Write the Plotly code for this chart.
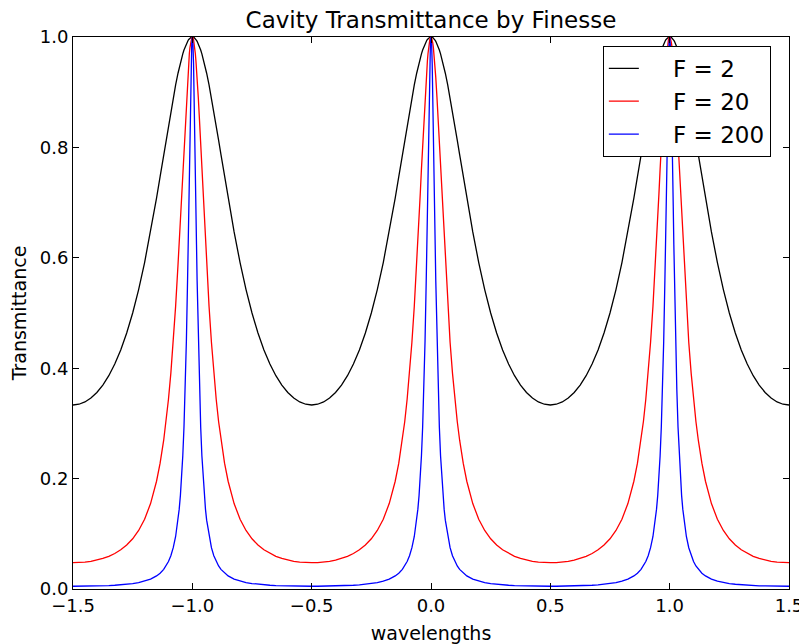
import plotly.graph_objects as go

# Offsets from a transmission peak (in wavelengths), half period
offsets = [0.0, 0.0025, 0.005, 0.0075, 0.01, 0.0125, 0.015, 0.0175, 0.02, 0.025, 0.03,
           0.035, 0.04, 0.045, 0.05, 0.055, 0.06, 0.07, 0.08, 0.09, 0.1, 0.11, 0.12,
           0.135, 0.15, 0.175, 0.2, 0.225, 0.25, 0.275, 0.3, 0.325, 0.35, 0.375, 0.4,
           0.425, 0.45, 0.475, 0.5]
# Transmittance read at those offsets for each finesse
t_f2 = [1.0, 0.99988, 0.99951, 0.99889, 0.99803, 0.99693, 0.99558, 0.99400, 0.99218,
        0.98784, 0.98260, 0.97648, 0.96954, 0.96181, 0.95334, 0.94418, 0.93438,
        0.91310, 0.88992, 0.86530, 0.83964, 0.81335, 0.78676, 0.74700, 0.70811,
        0.64683, 0.59137, 0.54243, 0.5, 0.46373, 0.43308, 0.40750, 0.38643, 0.36940,
        0.35600, 0.34590, 0.33886, 0.33471, 0.33333]
t_f20 = [1.0, 0.99877, 0.99509, 0.98902, 0.98065, 0.97010, 0.95751, 0.94305, 0.92691,
         0.89038, 0.84936, 0.80591, 0.76094, 0.71579, 0.67139, 0.62846, 0.58746,
         0.51237, 0.44704, 0.39112, 0.34366, 0.30350, 0.26952, 0.22795, 0.19523,
         0.15480, 0.12643, 0.10598, 0.090909, 0.079590, 0.070971, 0.064351, 0.059249,
         0.055337, 0.052383, 0.050226, 0.048755, 0.047900, 0.047619]
t_f200 = [1.0, 0.98781, 0.95298, 0.90008, 0.83519, 0.76437, 0.69262, 0.62348, 0.55912,
          0.44820, 0.36085, 0.29340, 0.24145, 0.20118, 0.16965, 0.14468, 0.12465,
          0.095082, 0.074798, 0.060360, 0.049755, 0.041756, 0.035584, 0.028679,
          0.023685, 0.017985, 0.014266, 0.011716, 0.0099010, 0.0085731, 0.0075815,
          0.0068307, 0.0062587, 0.0058238, 0.0054975, 0.0052604, 0.0051000, 0.0050058,
          0.0049751]
peak_centers = [-1.0, 0.0, 1.0]
series_names = ["F = 2", "F = 20", "F = 200"]
series_colors = ["black", "red", "blue"]

x_ticks = [-1.5, -1.0, -0.5, 0.0, 0.5, 1.0, 1.5]
x_ticktext = ["\u22121.5", "\u22121.0", "\u22120.5", "0.0", "0.5", "1.0", "1.5"]
y_ticks = [0.0, 0.2, 0.4, 0.6, 0.8, 1.0]
y_ticktext = ["0.0", "0.2", "0.4", "0.6", "0.8", "1.0"]


def build_curve(vals):
    pts = {}
    for c in peak_centers:
        for d, v in zip(offsets, vals):
            for s in (-1, 1):
                x = round(c + s * d, 6)
                if -1.5 <= x <= 1.5:
                    pts[x] = v
    xs = sorted(pts)
    return xs, [pts[x] for x in xs]


LEGEND_PAD = "\u00a0" * 4  # gap between legend line sample and label

fig = go.Figure()
for name, color, vals in zip(series_names, series_colors, [t_f2, t_f20, t_f200]):
    xs, ys = build_curve(vals)
    fig.add_trace(go.Scatter(x=xs, y=ys, mode="lines", name=LEGEND_PAD + name,
                             line=dict(color=color, width=1.3)))

font_family = "DejaVu Sans"
axis_common = dict(showline=True, linecolor="black", linewidth=1, mirror="ticks",
                   ticks="inside", ticklen=6, tickwidth=1, tickcolor="black",
                   showgrid=False, zeroline=False,
                   tickfont=dict(family=font_family, size=18, color="black"))

# The page body has an 8px margin, so the figure is sized to fit the window.
fig.update_layout(
    width=799, height=636,
    margin=dict(l=65, r=18, t=29, b=55, autoexpand=False),
    paper_bgcolor="white", plot_bgcolor="white",
    font=dict(family=font_family, color="black"),
    title=dict(text="Cavity Transmittance by Finesse", x=0.5, xref="paper",
               y=1 - 12 / 636, yref="container", yanchor="middle", xanchor="center",
               font=dict(family=font_family, size=23, color="black")),
    xaxis=dict(range=[-1.5, 1.5], tickvals=x_ticks, ticktext=x_ticktext,
               title=dict(text="wavelengths", standoff=14,
                          font=dict(family=font_family, size=19, color="black")),
               **axis_common),
    yaxis=dict(range=[0, 1], tickvals=y_ticks, ticktext=y_ticktext,
               title=dict(text="Transmittance", standoff=8,
                          font=dict(family=font_family, size=19, color="black")),
               **axis_common),
    legend=dict(x=0.74, y=0.984, xanchor="left", yanchor="top",
                bordercolor="black", borderwidth=1, bgcolor="white",
                font=dict(family=font_family, size=23, color="black"),
                tracegroupgap=0),
    showlegend=True,
)

fig.write_html("out.html")
